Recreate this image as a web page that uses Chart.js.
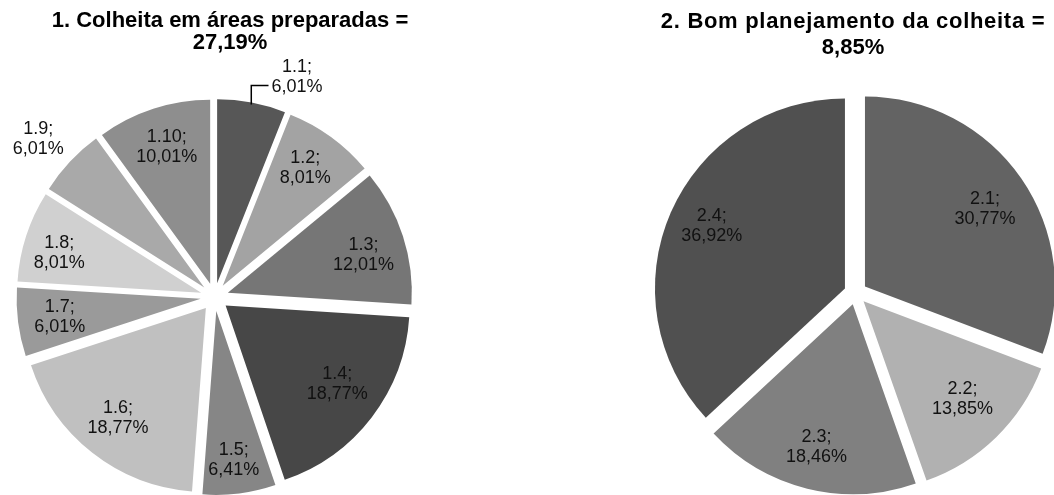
<!DOCTYPE html>
<html>
<head>
<meta charset="utf-8">
<script src="https://cdn.jsdelivr.net/npm/chart.js@4.4.1/dist/chart.umd.min.js"></script>
<style>
  html, body { margin: 0; padding: 0; background: #ffffff; }
  #wrap { position: relative; width: 1054px; height: 495px; overflow: hidden; }
  #wrap canvas { position: absolute; top: 0; }
</style>
</head>
<body>
<div id="wrap">
  <canvas id="pie-colheita" width="430" height="495" style="left:0"></canvas>
  <canvas id="pie-planejamento" width="434" height="495" style="left:620px"></canvas>
</div>
<script>
// Chart 1 - Colheita em áreas preparadas
const colheitaTitle = ['1. Colheita em áreas preparadas =', '27,19%'];
const colheitaLabels = ['1.1', '1.2', '1.3', '1.4', '1.5', '1.6', '1.7', '1.8', '1.9', '1.10'];
const colheitaValues = [6.01, 8.01, 12.01, 18.77, 6.41, 18.77, 6.01, 8.01, 6.01, 10.01];
const colheitaColors = ['#575757', '#a3a3a3', '#767676', '#474747', '#868686',
                        '#c0c0c0', '#9a9a9a', '#d0d0d0', '#a9a9a9', '#8e8e8e'];

// Chart 2 - Bom planejamento da colheita
const planejamentoTitle = ['2. Bom planejamento da colheita =', '8,85%'];
const planejamentoLabels = ['2.1', '2.2', '2.3', '2.4'];
const planejamentoValues = [30.77, 13.85, 18.46, 36.92];
const planejamentoColors = ['#636363', '#b1b1b1', '#808080', '#505050'];

const FONT_FAMILY = '"Liberation Sans", Arial, sans-serif';

function formatPercent(v) {
    return v.toFixed(2).replace('.', ',') + '%';
}

// Pulls every slice away from the centre along its mid angle,
// keeping the same radius for all of them.
const explodePlugin = {
    id: 'explode',
    afterDatasetUpdate(chart, args, opts) {
        const d = opts.distance || 0;
        args.meta.data.forEach(function(arc) {
            const mid = (arc.startAngle + arc.endAngle) / 2;
            arc.x += Math.cos(mid) * d;
            arc.y += Math.sin(mid) * d;
        });
    }
};

// "label; value" text for each slice. spots[i] = [fraction of radius, turn in degrees];
// a fraction above 1 puts the text outside the pie.
const sliceLabelPlugin = {
    id: 'sliceLabels',
    afterDatasetsDraw(chart, args, opts) {
        const ctx = chart.ctx;
        const meta = chart.getDatasetMeta(0);
        const values = chart.data.datasets[0].data;
        const lh = opts.lineHeight;

        ctx.save();
        ctx.font = opts.font;
        ctx.fillStyle = opts.color;
        ctx.textAlign = 'center';
        ctx.textBaseline = 'middle';

        meta.data.forEach(function(arc, i) {
            const mid = (arc.startAngle + arc.endAngle) / 2;
            const R = arc.outerRadius;
            const spot = opts.spots[i] || [0.78, 0];
            const lines = [chart.data.labels[i] + ';', formatPercent(values[i])];
            const ang = mid + spot[1] * Math.PI / 180;
            const lx = arc.x + Math.cos(ang) * spot[0] * R;
            const ly = arc.y + Math.sin(ang) * spot[0] * R;
            const top = ly - (lines.length - 1) / 2 * lh;

            lines.forEach(function(t, k) {
                ctx.fillText(t, lx, top + k * lh);
            });

            // elbow leader from the slice edge to the value line
            if (opts.leaders.indexOf(i) >= 0) {
                const sx = arc.x + Math.cos(mid) * (R - 2);
                const sy = arc.y + Math.sin(mid) * (R - 2);
                const lineY = top + lh - 2;
                const textLeft = lx - ctx.measureText(lines[1]).width / 2 - 3;
                ctx.beginPath();
                ctx.moveTo(sx, sy);
                ctx.lineTo(sx, lineY);
                ctx.lineTo(textLeft, lineY);
                ctx.strokeStyle = '#000000';
                ctx.lineWidth = 1.5;
                ctx.stroke();
            }
        });
        ctx.restore();
    }
};

// Two-line bold heading drawn above each pie
const headingPlugin = {
    id: 'heading',
    afterDraw(chart, args, opts) {
        const ctx = chart.ctx;
        ctx.save();
        ctx.font = opts.font;
        ctx.fillStyle = '#000000';
        ctx.textAlign = 'center';
        ctx.textBaseline = 'middle';
        opts.text.forEach(function(t, k) {
            ctx.letterSpacing = (k === 0 ? opts.spacing : 0) + 'px';
            ctx.fillText(t, opts.x, opts.y + k * opts.lineHeight);
        });
        ctx.restore();
    }
};

function makePie(canvasId, cfg) {
    const canvas = document.getElementById(canvasId);
    return new Chart(canvas, {
        type: 'pie',
        data: {
            labels: cfg.labels,
            datasets: [{
                data: cfg.values,
                backgroundColor: cfg.colors,
                borderWidth: 0,
                radius: cfg.radius
            }]
        },
        options: {
            responsive: false,
            animation: false,
            events: [],
            layout: { padding: cfg.padding },
            plugins: {
                legend: { display: false },
                tooltip: { enabled: false },
                explode: { distance: cfg.explode },
                sliceLabels: {
                    font: '18px ' + FONT_FAMILY,
                    color: '#111111',
                    lineHeight: 20,
                    spots: cfg.spots,
                    leaders: cfg.leaders
                },
                heading: {
                    text: cfg.title,
                    font: 'bold 22px ' + FONT_FAMILY,
                    x: cfg.titleX,
                    y: cfg.titleY,
                    lineHeight: cfg.titleLineHeight,
                    spacing: cfg.titleSpacing
                }
            }
        },
        plugins: [explodePlugin, sliceLabelPlugin, headingPlugin]
    });
}

function init() {
    makePie('pie-colheita', {
        title: colheitaTitle,
        labels: colheitaLabels,
        values: colheitaValues,
        colors: colheitaColors,
        radius: 184,
        explode: 14,
        padding: { top: 99, right: 1 },
        spots: [[1.20, 10.4], [0.78, -1], [0.765, 2.4], [0.742, -2.4], [0.816, 0.5],
                [0.764, 0.6], [0.772, 0], [0.80, -2.4], [1.21, -1.4], [0.777, 0.3]],
        leaders: [0],
        titleX: 230,
        titleY: 21,
        titleLineHeight: 22,
        titleSpacing: 0
    });

    makePie('pie-planejamento', {
        title: planejamentoTitle,
        labels: planejamentoLabels,
        values: planejamentoValues,
        colors: planejamentoColors,
        radius: 190,
        explode: 11.5,
        padding: { top: 91, left: 37 },
        spots: [[0.752, 1.7], [0.733, -1], [0.774, 0.4], [0.775, 1.7]],
        leaders: [],
        titleX: 233,
        titleY: 22,
        titleLineHeight: 25.5,
        titleSpacing: 0.7
    });
}

if (document.readyState === 'loading') {
    document.addEventListener('DOMContentLoaded', init);
} else {
    init();
}
</script>
</body>
</html>
